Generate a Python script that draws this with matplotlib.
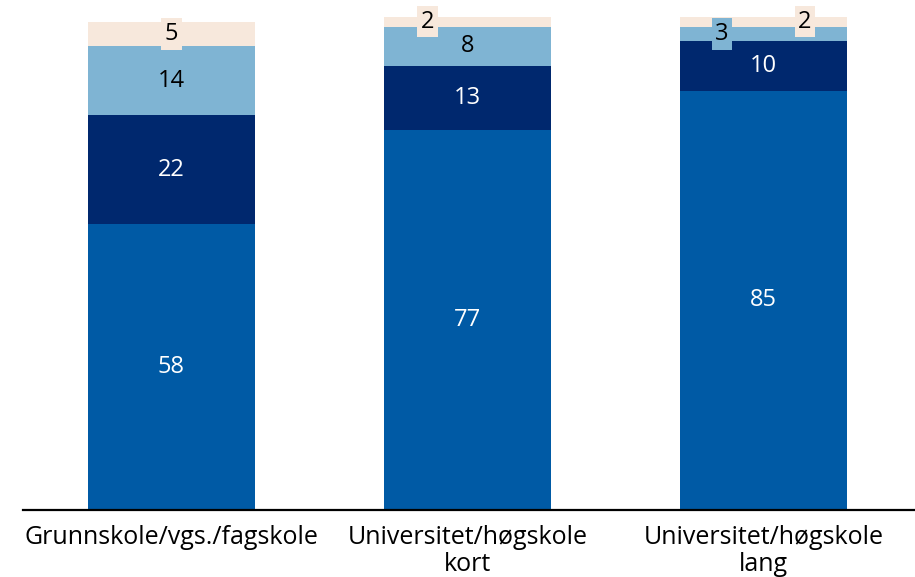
import numpy as np
import matplotlib.pyplot as plt

plt.rcParams['font.family'] = ['Open Sans', 'DejaVu Sans']

categories = ['Grunnskole/vgs./fagskole', 'Universitet/høgskole\nkort', 'Universitet/høgskole\nlang']
# stacked segments, bottom to top
seg1 = [58, 77, 85]
seg2 = [22, 13, 10]
seg3 = [14, 8, 3]
seg4 = [5, 2, 2]

colors = ['#005aa5', '#00286e', '#7fb4d3', '#f7e8dc']
text_colors = ['white', 'white', 'black', 'black']
# horizontal nudges for small labels so they do not collide
nudges = [[0, 0, 0, 0], [0, 0, 0, -0.135], [0, 0, -0.14, 0.14]]

fig = plt.figure(figsize=(9.15, 5.77), dpi=100)
ax = fig.add_axes([0.025, 0.116, 0.975, 0.855])

x = np.arange(len(categories))
bottom = np.zeros(len(categories))
for k, seg in enumerate([seg1, seg2, seg3, seg4]):
    seg = np.array(seg, dtype=float)
    ax.bar(x, seg, bottom=bottom, width=0.565, color=colors[k], linewidth=0)
    for i in range(len(x)):
        yc = bottom[i] + seg[i] / 2
        kw = {}
        if seg[i] < 6:
            kw['bbox'] = dict(facecolor=colors[k], edgecolor='none', pad=2.5)
        ax.text(x[i] + nudges[i][k], yc, f'{int(seg[i])}', ha='center', va='center',
                fontsize=17, color=text_colors[k], **kw)
    bottom += seg

ax.set_xlim(-0.502, 2.512)
ax.set_ylim(0, 100)
ax.set_xticks(x)
ax.set_xticklabels(categories, fontsize=18, linespacing=1.1)
ax.tick_params(axis='x', length=0, pad=11)
ax.set_yticks([])
for s in ['top', 'right', 'left']:
    ax.spines[s].set_visible(False)
ax.spines['bottom'].set_linewidth(1.6)

fig.savefig('out.png', dpi=100)
